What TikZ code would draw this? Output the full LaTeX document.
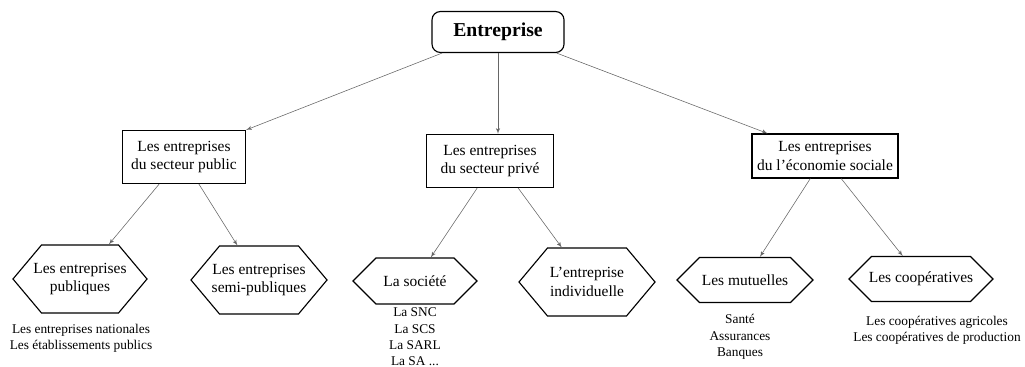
\documentclass[tikz,border=0pt]{standalone}
\usepackage{fontspec}
\setmainfont{Liberation Serif}
\usetikzlibrary{calc,arrows,shapes.symbols}
\tikzset{
      boxr/.style={
          rectangle,
          thick,
          draw=black,
          align=center,
          font=\fontsize{11}{13}\selectfont
      },
      hexr/.style={
          signal,
          signal to=east and west,
          signal pointer angle=90,
          thick,
          draw=black,
          align=center,
          inner ysep=1pt,
          inner xsep=-6pt,
          font=\fontsize{11}{13}\selectfont
      },
      listr/.style={
          align=center,
          font=\fontsize{9.5}{11.6}\selectfont
      },
      lnk/.style={
          draw=black!60,
          -latex'
      }
  }
\begin{document}
\begin{tikzpicture}[x=0.025cm,y=-0.025cm]
    \useasboundingbox (0,0) rectangle (1025,367);

    \node [boxr, rounded corners=6pt, minimum width=3.3cm, minimum height=1.025cm,
           font=\fontsize{14}{16}\selectfont\bfseries] (ent) at (498,32) {Entreprise};

    \node [boxr, minimum width=3.075cm, minimum height=1.325cm] (pub) at (184,157) {Les entreprises\\du secteur public};
    \node [boxr, minimum width=3.175cm, minimum height=1.325cm] (priv) at (490,161) {Les entreprises\\du secteur privé};
    \node [boxr, minimum width=3.65cm, minimum height=1.1cm] (soc) at (825,156) {Les entreprises\\du l’économie sociale};

    \node [hexr, signal pointer angle=100, minimum width=3.35cm, minimum height=1.7cm] (epub) at (80,279) {Les entreprises\\publiques};
    \node [hexr, signal pointer angle=100, minimum width=3.4cm, minimum height=1.7cm] (esemi) at (259,280) {Les entreprises\\semi-publiques};
    \node [hexr, minimum width=3.1cm, minimum height=1.15cm] (soci) at (415,281) {La société};
    \node [hexr, signal pointer angle=100, minimum width=3.4cm, minimum height=1.7cm] (indiv) at (587,282) {L’entreprise\\individuelle};
    \node [hexr, minimum width=3.4cm, minimum height=1.125cm] (mut) at (745,280) {Les mutuelles};
    \node [hexr, minimum width=3.6cm, minimum height=1.125cm] (coop) at (921,279) {Les coopératives};

    \node [listr] (lpub) at (81,338) {Les entreprises nationales\\Les établissements publics};
    \node [listr] (lsoc) at (415,337) {La SNC\\La SCS\\La SARL\\La SA ...};
    \node [listr] (lmut) at (740,337) {Santé\\Assurances\\Banques};
    \node [listr] (lcoop) at (937,330) {Les coopératives agricoles\\Les coopératives de production};

    %%
    \draw[lnk] ($(ent.south west)!0.08!(ent.south east)$) -- (pub.north east);
    \draw[lnk] (ent.south) -- (ent.south |- priv.north);
    \draw[lnk] ($(ent.south west)!0.94!(ent.south east)$) -- ($(soc.north west)!0.11!(soc.north east)$);
    %%

    \draw[lnk] ($(pub.south west)!0.3!(pub.south east)$) -- (epub);
    \draw[lnk] ($(pub.south west)!0.62!(pub.south east)$) -- (esemi);

    \draw[lnk] ($(priv.south west)!0.4!(priv.south east)$) -- (soci);
    \draw[lnk] ($(priv.south west)!0.72!(priv.south east)$) -- (indiv);

    \draw[lnk] ($(soc.south west)!0.4!(soc.south east)$) -- (mut);
    \draw[lnk] ($(soc.south west)!0.61!(soc.south east)$) -- (coop);

\end{tikzpicture}
\end{document}
